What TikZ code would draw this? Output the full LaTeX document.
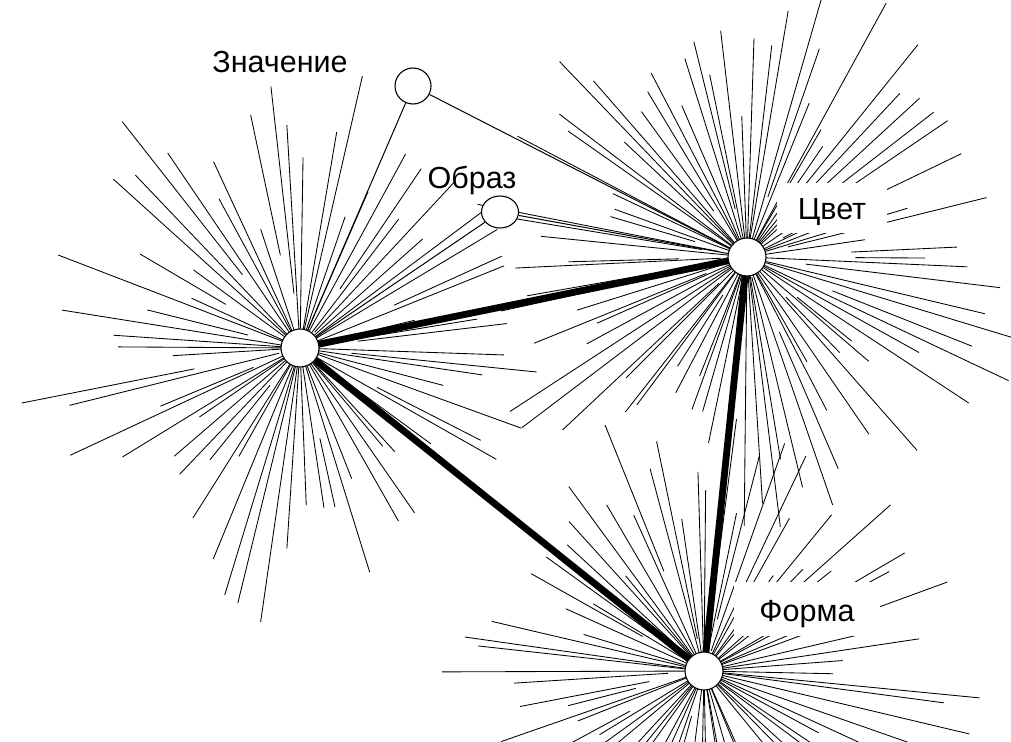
\documentclass[tikz,border=0pt]{standalone}
\usepackage{fontspec}
\setmainfont{Liberation Sans}
\usetikzlibrary{calc,shapes.geometric}
\tikzset{
  ray/.style={line width=0.85pt, line cap=butt},
  hub/.style={circle, draw, line width=1.1pt, fill=white, minimum size=38pt, inner sep=0pt},
  smallnode/.style={circle, draw, line width=1.1pt, fill=white, minimum size=36pt, inner sep=0pt},
  thick link/.style={line width=6.8pt},
  thin link/.style={line width=1pt},
  lbl/.style={font=\fontsize{30.5}{36}\selectfont, anchor=base, inner sep=0pt},
  boxlbl/.style={lbl, fill=white, text height=22pt, text depth=0pt, inner ysep=14pt, inner xsep=21pt}
}
\newcommand\starburst[4]{%
  \pgfmathsetseed{#3}%
  \pgfmathsetmacro\mystep{360/#2}%
  \foreach \k in {1,...,#2}{%
    \pgfmathsetmacro\myang{\k*\mystep+(rnd-0.5)*0.8*\mystep}%
    \pgfmathsetmacro\mypr{rnd}%
    \pgfmathsetmacro\myrx{20+90*rnd}%
    \pgfmathsetmacro\myra{\mypr<0.75 ? 4 : \myrx}%
    \pgfmathsetmacro\myrq{#4*(0.4+0.6*rnd)}%
    \pgfmathsetmacro\myrb{max(\myra+70,\myrq)}%
    \draw[ray] ($(#1)+(\myang:\myra)$) -- ($(#1)+(\myang:\myrb)$);
  }}
\begin{document}
\begin{tikzpicture}[x=1pt,y=-1pt]
\useasboundingbox (0,0) rectangle (1011,741);
\clip (0,0) rectangle (1011,741);
\fill[white] (0,0) rectangle (1011,741);
% hub positions
\coordinate (A) at (300,348);
\coordinate (B) at (747,257);
\coordinate (C) at (704,671);
% rays
\starburst{A}{70}{11}{292}
\starburst{B}{86}{23}{292}
\starburst{C}{78}{37}{292}
% thick triangle
\draw[thick link] (A) -- (B);
\draw[thick link] (A) -- (C);
\draw[thick link] (B) -- (C);
% small nodes
\node[smallnode] (Zn) at (413,86) {};
\node[draw, ellipse, line width=1.1pt, fill=white, minimum width=37pt, minimum height=32pt, inner sep=0pt] (Ob) at (500,212) {};
\node[hub] (hA) at (A) {};
\node[hub] (hB) at (B) {};
\node[hub] (hC) at (C) {};
% connectors
\draw[thin link] (Zn) -- (hA);
\draw[thin link] (Zn) -- (hB);
\draw[thin link] (Ob) -- (hA);
\draw[thin link] (Ob) -- (hB);
% labels
\node[lbl] (lZn) at (280,73) {Значение};
\node[lbl] (lOb) at (472,188) {Образ};
\node[boxlbl] (lB) at (832,219) {Цвет};
\node[boxlbl, inner xsep=25pt, text height=24pt, inner ysep=15pt] (lC) at (807,621) {Форма};
\end{tikzpicture}
\end{document}
